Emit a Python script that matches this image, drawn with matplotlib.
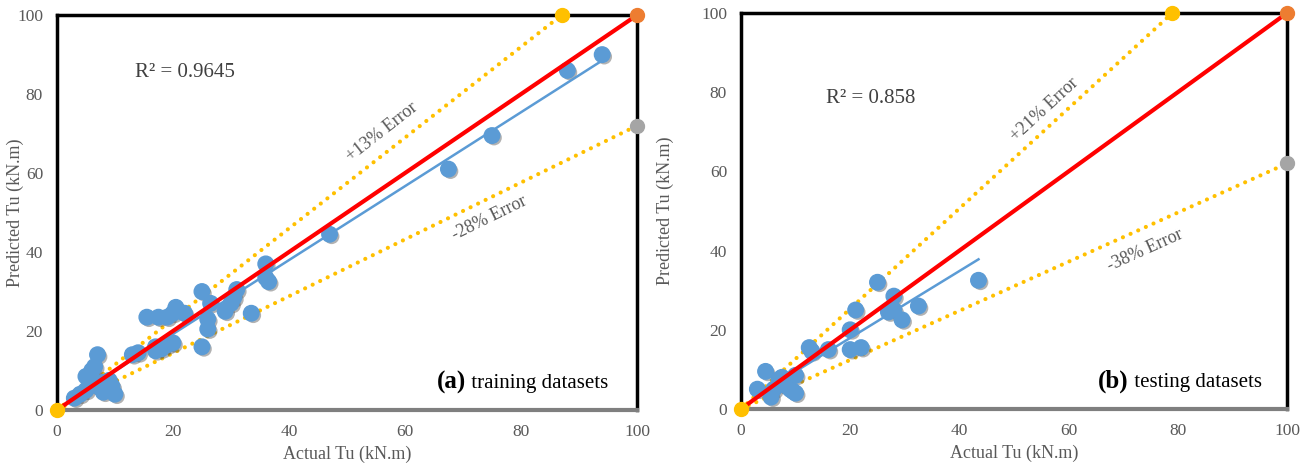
import matplotlib.pyplot as plt
import matplotlib.patheffects as pe
import numpy as np

plt.rcParams['font.family'] = ['Liberation Serif', 'DejaVu Serif']

# training data (actual, predicted)
train_actual = [94, 88, 75, 67.5, 47, 36, 36.5, 36, 33.5, 31, 30.5, 30, 29, 25, 26.5,
                26, 26, 25, 20.5, 20, 19, 17.5, 15.5, 22, 20, 19, 18, 17, 17,
                14, 13, 7, 6.5, 6, 5, 6, 8, 9, 10, 8, 5, 4, 3, 7, 9.5]
train_pred = [90, 86, 69.5, 61, 44.5, 37, 32.5, 33.5, 24.5, 30.5, 28.5, 27, 25, 30, 27,
              23, 20.5, 16, 26, 24.5, 23.5, 23.5, 23.5, 24.5, 17, 16.5, 15.5, 16, 15,
              14.5, 14, 14, 11, 10, 8.5, 8, 7, 7.5, 4, 4.5, 5, 4, 3, 6, 6]

# testing data (actual, predicted)
test_actual = [43.5, 32.5, 29.5, 28, 27, 28, 25, 21, 20, 20, 22, 16, 12.5, 13,
               4.5, 3, 5.5, 7, 7.5, 10, 9, 10, 9.5, 6, 8]
test_pred = [32.5, 26, 22.5, 28.5, 24.5, 25, 32, 25, 20, 15, 15.5, 15, 15.5, 14.5,
             9.5, 5, 3, 7.5, 8, 8.5, 5, 4, 4.5, 5, 6]

panels = [
    dict(actual=train_actual, pred=train_pred, r2="R² = 0.9645",
         upper=(87, 100), lower=(100, 72), up_lbl="+13% Error", lo_lbl="-28% Error",
         trend=((2, 2.4), (94, 88.5)), r2_pos=(13.5, 85.5),
         up_pos=(56, 70.5), lo_pos=(74.5, 48.5), tag="(a)", tag_txt="training datasets",
         tag_pos=(65.5, 7), rect=[0.0433, 0.1332, 0.4411, 0.8348], ylab_x=-0.057),
    dict(actual=test_actual, pred=test_pred, r2="R² = 0.858",
         upper=(79, 100), lower=(100, 62), up_lbl="+21% Error", lo_lbl="-38% Error",
         trend=((3, 3.6), (43.5, 37.8)), r2_pos=(15.5, 78.5),
         up_pos=(55.5, 75.5), lo_pos=(74, 40), tag="(b)", tag_txt="testing datasets",
         tag_pos=(65.4, 7), rect=[0.5635, 0.1353, 0.4152, 0.8372], ylab_x=-0.123),
]

fig = plt.figure(figsize=(13.15, 4.73), dpi=100)

for p in panels:
    ax = fig.add_axes(p["rect"])
    ax.set_xlim(0, 100)
    ax.set_ylim(0, 100)

    # error bounds
    ux, uy = p["upper"]
    lx, ly = p["lower"]
    for ex, ey in [(ux, uy), (lx, ly)]:
        ax.plot([0, ex], [0, ey], color="#FFC000", lw=3, ls=(0, (0.01, 2.0)),
                dash_capstyle="round", zorder=3)

    # scatter points with soft shadow
    ax.scatter(p["actual"], p["pred"], s=125, color="#5B9BD5", zorder=4,
               path_effects=[pe.SimplePatchShadow(offset=(1.5, -1.5), shadow_rgbFace="#555555",
                                                  alpha=0.45), pe.Normal()])

    # linear trend
    (tx0, ty0), (tx1, ty1) = p["trend"]
    ax.plot([tx0, tx1], [ty0, ty1], color="#5B9BD5", lw=1.8, zorder=5)

    # ideal line
    ax.plot([0, 100], [0, 100], color="#FF0000", lw=3, zorder=6)

    # end markers
    ax.scatter([0, ux], [0, uy], s=100, color="#FFC000", zorder=7, clip_on=False)
    ax.scatter([100], [100], s=100, color="#ED7D31", zorder=7, clip_on=False)
    ax.scatter([lx], [ly], s=100, color="#A5A5A5", zorder=7, clip_on=False)

    # annotations
    ax.text(*p["r2_pos"], p["r2"], fontsize=15, color="#404040", va="center")
    ang_u = np.degrees(np.arctan2(uy * ax.bbox.height / 100, ux * ax.bbox.width / 100))
    ang_l = np.degrees(np.arctan2(ly * ax.bbox.height / 100, lx * ax.bbox.width / 100))
    ax.text(*p["up_pos"], p["up_lbl"], fontsize=13, color="#595959", rotation=ang_u,
            ha="center", va="center")
    ax.text(*p["lo_pos"], p["lo_lbl"], fontsize=13, color="#595959", rotation=ang_l,
            ha="center", va="center")
    t = ax.text(*p["tag_pos"], p["tag"], fontsize=18, fontweight="bold", color="black",
                va="center")
    ax.annotate(" " + p["tag_txt"], xycoords=t, xy=(1, 0.45), va="center", fontsize=15,
                color="black")

    # spines
    for side in ["top", "left", "right"]:
        ax.spines[side].set_color("black")
        ax.spines[side].set_linewidth(2.5)
    ax.spines["bottom"].set_color("#7F7F7F")
    ax.spines["bottom"].set_linewidth(3)

    ax.set_xticks([0, 20, 40, 60, 80, 100])
    ax.set_yticks([0, 20, 40, 60, 80, 100])
    ax.tick_params(length=0, labelsize=12.5, labelcolor="#595959", pad=10)
    ax.set_xlabel("Actual Tu (kN.m)", fontsize=13, color="#595959", labelpad=4)
    ax.set_ylabel("Predicted Tu (kN.m)", fontsize=13, color="#595959")
    ax.yaxis.set_label_coords(p["ylab_x"], 0.5)

fig.savefig("out.png", dpi=100)
